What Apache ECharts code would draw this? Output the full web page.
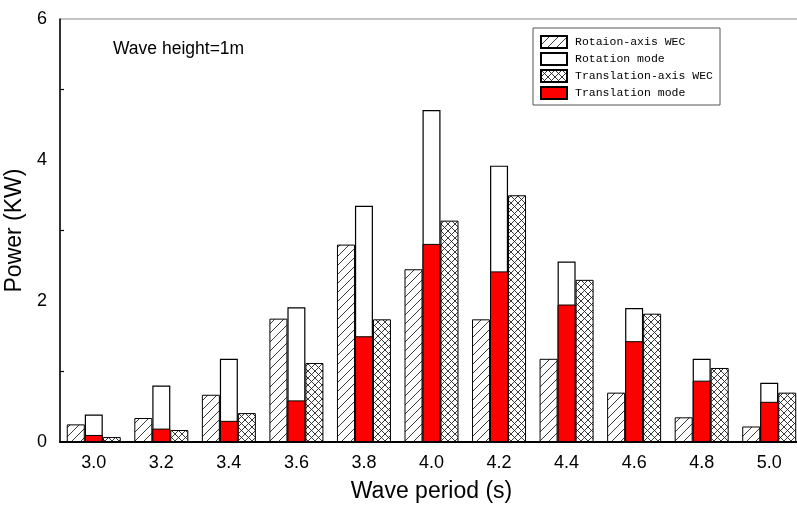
<!DOCTYPE html>
<html>
<head>
<meta charset="utf-8" />
<title>Wave power</title>
<script src="https://cdn.jsdelivr.net/npm/echarts@6/dist/echarts.min.js"></script>
<style>
  html, body { margin: 0; padding: 0; background: #fff; }
  #chartmain { width: 797px; height: 516px; }
</style>
</head>
<body>
<div id="chartmain"></div>
<script type="text/javascript">
  // wave periods (s)
  var periods = ['3.0', '3.2', '3.4', '3.6', '3.8', '4.0', '4.2', '4.4', '4.6', '4.8', '5.0'];
  // power (KW)
  var rotAxisWEC   = [0.25, 0.34, 0.67, 1.75, 2.80, 2.45, 1.74, 1.18, 0.70, 0.35, 0.22];
  var rotMode      = [0.39, 0.80, 1.18, 1.91, 3.35, 4.71, 3.92, 2.56, 1.90, 1.18, 0.84];
  var transAxisWEC = [0.07, 0.17, 0.41, 1.12, 1.74, 3.14, 3.50, 2.30, 1.82, 1.05, 0.70];
  var transMode    = [0.10, 0.19, 0.30, 0.59, 1.50, 2.81, 2.42, 1.95, 1.43, 0.87, 0.57];
  var yTicks = [0, 2, 4, 6];

  var tickFont = "'Liberation Sans', Arial, sans-serif";

  // hatch fills for the bars
  function makePattern(size, cross) {
    var c = document.createElement('canvas');
    c.width = c.height = size;
    var ctx = c.getContext('2d');
    ctx.fillStyle = '#fff';
    ctx.fillRect(0, 0, size, size);
    ctx.strokeStyle = '#222';
    ctx.lineWidth = 0.9;
    ctx.beginPath();
    ctx.moveTo(0, size); ctx.lineTo(size, 0);
    ctx.moveTo(-1, 1); ctx.lineTo(1, -1);
    ctx.moveTo(size - 1, size + 1); ctx.lineTo(size + 1, size - 1);
    if (cross) {
      ctx.moveTo(0, 0); ctx.lineTo(size, size);
      ctx.moveTo(-1, size - 1); ctx.lineTo(1, size + 1);
      ctx.moveTo(size - 1, -1); ctx.lineTo(size + 1, 1);
    }
    ctx.stroke();
    return c;
  }
  var hatchFill = { image: makePattern(9, false), repeat: 'repeat' };
  var crossFill = { image: makePattern(7, true), repeat: 'repeat' };

  var myChart = echarts.init(document.getElementById('chartmain'));
  var option = {
    backgroundColor: '#fff',
    animation: false,
    grid: {
      left: 60, right: -6, top: 19, bottom: 74,
      outerBoundsMode: 'none',
      containLabel: false,
      show: true, borderColor: '#888', borderWidth: 1
    },
    title: {
      text: 'Wave height=1m',
      left: 108, top: 35,
      textStyle: { fontFamily: tickFont, fontSize: 17.5, fontWeight: 'normal', color: '#000' }
    },
    legend: {
      orient: 'vertical',
      left: 533, top: 28,
      padding: [7, 7, 5, 7],
      icon: 'rect',
      itemWidth: 26, itemHeight: 12, itemGap: 3,
      borderColor: '#555', borderWidth: 1,
      backgroundColor: '#fff',
      data: ['Rotaion-axis WEC', 'Rotation mode', 'Translation-axis WEC', 'Translation mode'],
      textStyle: { fontFamily: "'Liberation Mono', 'DejaVu Sans Mono', monospace", fontSize: 11.5, color: '#000', padding: [0, 0, 0, 3] }
    },
    xAxis: [
      {
        type: 'category',
        data: periods,
        position: 'bottom',
        z: 5,
        axisLine: { lineStyle: { color: '#000', width: 2 } },
        axisTick: { alignWithLabel: true, inside: true, length: 6, lineStyle: { color: '#000', width: 1.2 } },
        axisLabel: { fontFamily: tickFont, fontSize: 18, color: '#000', margin: 12 },
        name: 'Wave period (s)',
        nameLocation: 'middle',
        nameGap: 38,
        nameTextStyle: { fontFamily: tickFont, fontSize: 23, color: '#000' }
      },
      {
        type: 'category',
        data: periods,
        position: 'bottom',
        z: 5,
        axisLine: { show: false },
        axisTick: { inside: true, length: 4, lineStyle: { color: '#000', width: 1.2 } },
        axisLabel: { show: false }
      }
    ],
    yAxis: {
      type: 'value',
      min: 0, max: 6, interval: 2,
      axisLine: { show: true, lineStyle: { color: '#000', width: 1.5 } },
      axisTick: { inside: true, length: 6, lineStyle: { color: '#000', width: 1.2 } },
      minorTick: { show: true, splitNumber: 2, length: 4, lineStyle: { color: '#000', width: 1.2 } },
      splitLine: { show: false },
      axisLabel: {
        fontFamily: tickFont, fontSize: 18, color: '#000', margin: 13,
        formatter: function (v) { return yTicks.indexOf(v) >= 0 ? String(v) : ''; }
      },
      name: 'Power (KW)',
      nameLocation: 'middle',
      nameGap: 30,
      nameTextStyle: { fontFamily: tickFont, fontSize: 23, color: '#000' }
    },
    series: [
      {
        name: 'Rotaion-axis WEC', type: 'bar', xAxisIndex: 0,
        data: rotAxisWEC, barWidth: 18, barGap: 0,
        itemStyle: { color: hatchFill, borderColor: '#000', borderWidth: 1 }
      },
      {
        name: 'Rotation mode', type: 'bar', xAxisIndex: 0,
        data: rotMode, barWidth: 18, barGap: 0,
        itemStyle: { color: '#fff', borderColor: '#000', borderWidth: 1.2 }
      },
      {
        name: 'Translation-axis WEC', type: 'bar', xAxisIndex: 0,
        data: transAxisWEC, barWidth: 18, barGap: 0,
        itemStyle: { color: crossFill, borderColor: '#000', borderWidth: 1 }
      },
      {
        name: 'Translation mode', type: 'bar', xAxisIndex: 1,
        data: transMode, barWidth: 18,
        itemStyle: { color: '#ff0000', borderColor: '#000', borderWidth: 1 }
      }
    ]
  };
  myChart.setOption(option);
</script>
</body>
</html>
